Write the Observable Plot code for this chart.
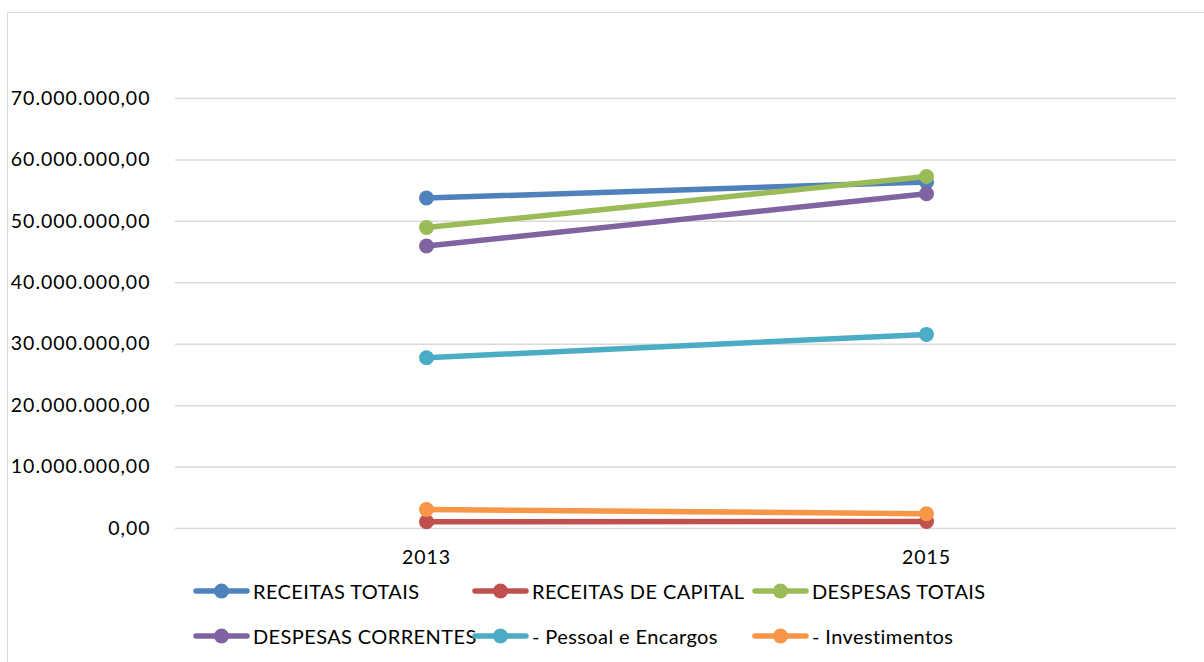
<!DOCTYPE html>
<html>
<head>
<meta charset="utf-8">
<script src="https://cdn.jsdelivr.net/npm/d3@7"></script>
<script src="https://cdn.jsdelivr.net/npm/@observablehq/plot@0.6"></script>
<style>
  html, body { margin: 0; padding: 0; background: #fff; }
  body { width: 1204px; height: 662px; position: relative; overflow: hidden; font-family: Lato, "Open Sans", sans-serif; }
  #frame { position: absolute; left: 7px; top: 12px; width: 1300px; height: 700px; border-left: 1.5px solid #d9d9d9; border-top: 1.5px solid #d9d9d9; }
  #chart { position: absolute; left: 0; top: 0; }
  #chart svg text { letter-spacing: 1px; }
  #legend { position: absolute; left: 193px; top: 576px; width: 900px; display: grid; grid-template-columns: 279px 280px 280px; row-gap: 15px; }
  .item { display: flex; align-items: center; height: 30px; font-size: 20px; letter-spacing: 0.4px; color: #000; white-space: nowrap; }
  .item svg { flex: none; margin-right: 3px; }
</style>
</head>
<body>
<div id="frame"></div>
<div id="chart"></div>
<div id="legend"></div>
<script>
const years = ["2013", "2015"];
const seriesNames = ["RECEITAS TOTAIS", "RECEITAS DE CAPITAL", "DESPESAS TOTAIS", "DESPESAS CORRENTES", "- Pessoal e Encargos", "- Investimentos"];
const seriesColors = ["#4f81bd", "#c0504d", "#9bbb59", "#8064a2", "#4bacc6", "#f79646"];
const receitasTotais = [53800000, 56400000];
const receitasCapital = [1100000, 1150000];
const despesasTotais = [49000000, 57300000];
const despesasCorrentes = [46000000, 54500000];
const pessoalEncargos = [27800000, 31600000];
const investimentos = [3100000, 2400000];
const yTicks = [0, 10000000, 20000000, 30000000, 40000000, 50000000, 60000000, 70000000];

const seriesValues = [receitasTotais, receitasCapital, despesasTotais, despesasCorrentes, pessoalEncargos, investimentos];
const data = seriesNames.flatMap((name, i) => years.map((year, j) => ({series: name, year, value: seriesValues[i][j]})));

const locale = d3.formatLocale({decimal: ",", thousands: ".", grouping: [3], currency: ["R$", ""]});
const fmt = locale.format(",.2f");

const chart = Plot.plot({
  width: 1204,
  height: 600,
  marginLeft: 175,
  marginRight: 28,
  marginTop: 98,
  marginBottom: 72,
  style: {fontFamily: "Lato, 'Open Sans', sans-serif", fontSize: "19.5px", color: "#000", background: "transparent", overflow: "visible"},
  x: {type: "point", domain: years, padding: 0.5, label: null},
  y: {domain: [0, 70000000], label: null},
  color: {domain: seriesNames, range: seriesColors},
  marks: [
    Plot.gridY(yTicks, {stroke: "#d9d9d9", strokeOpacity: 1, strokeWidth: 1.5}),
    Plot.axisY(yTicks, {tickSize: 0, tickPadding: 25, tickFormat: fmt, label: null, fill: "#000"}),
    Plot.axisX({tickSize: 0, tickPadding: 22, label: null, fill: "#000"}),
    ...seriesNames.map((name, i) => Plot.line(data.filter(d => d.series === name), {x: "year", y: "value", stroke: seriesColors[i], strokeWidth: 5.5})),
    ...seriesNames.map((name, i) => Plot.dot(data.filter(d => d.series === name), {x: "year", y: "value", r: 7.5, fill: seriesColors[i], stroke: "none"}))
  ]
});
document.getElementById("chart").appendChild(chart);

const legend = document.getElementById("legend");
seriesNames.forEach((name, i) => {
  const item = document.createElement("div");
  item.className = "item";
  const c = seriesColors[i];
  item.innerHTML = `<svg width="57" height="20"><line x1="3" y1="10" x2="54" y2="10" stroke="${c}" stroke-width="5.5" stroke-linecap="round"/><circle cx="28.5" cy="10" r="7.5" fill="${c}"/></svg><span>${name}</span>`;
  legend.appendChild(item);
});
</script>
</body>
</html>
